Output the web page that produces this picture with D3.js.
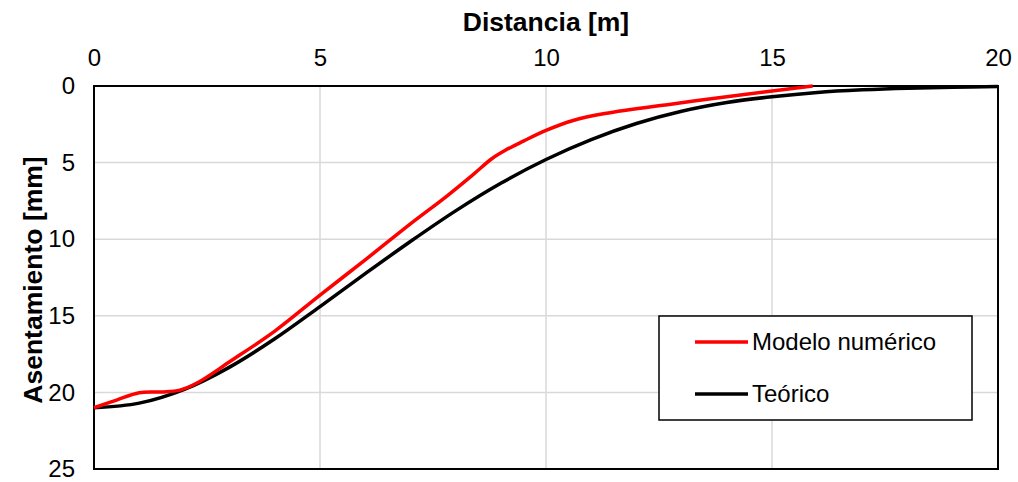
<!DOCTYPE html>
<html><head><meta charset="utf-8">
<script src="https://cdn.jsdelivr.net/npm/d3@7"></script>
<style>body{margin:0;background:#fff}svg{display:block}text{font-family:"Liberation Sans",Arial,sans-serif}</style>
</head><body><svg id="c" width="1018" height="482"></svg>
<script>
const xTicks = [0, 5, 10, 15, 20];
const yTicks = [0, 5, 10, 15, 20, 25];
const teoricoX = [0, 1, 2, 3, 4, 5, 6, 7, 8, 9, 10, 11, 12, 13, 14, 15, 16, 17, 18, 19, 20];
const teoricoY = [21.0, 20.7, 19.8, 18.35, 16.5, 14.4, 12.25, 10.15, 8.15, 6.35, 4.8, 3.5, 2.45, 1.65, 1.08, 0.7, 0.42, 0.25, 0.14, 0.08, 0.04];
const modeloX = [0, 0.5, 1, 1.5, 1.9, 2.3, 3, 4, 5, 6, 7, 7.8, 8.4, 8.8, 9.1, 9.5, 10, 10.6, 11.3, 12.8, 14.3, 15.9];
const modeloY = [21.0, 20.5, 20.02, 19.97, 19.85, 19.35, 18.0, 16.0, 13.65, 11.35, 9.0, 7.2, 5.75, 4.75, 4.2, 3.6, 2.9, 2.25, 1.8, 1.17, 0.59, 0.0];
const seriesNames = ["Modelo numérico", "Teórico"];
const seriesColors = ["#ff0000", "#000000"];

const svg = d3.select("#c");
const L = 94, R = 998, T = 86, B = 469;
const x = d3.scaleLinear().domain([0, 20]).range([L, R]);
const y = d3.scaleLinear().domain([0, 25]).range([T, B]);

// grid
svg.append("g").selectAll("line").data(xTicks.filter(d => d > 0 && d < 20)).join("line")
  .attr("x1", d => x(d)).attr("x2", d => x(d)).attr("y1", T).attr("y2", B)
  .attr("stroke", "#d9d9d9").attr("stroke-width", 1.5);
svg.append("g").selectAll("line").data(yTicks.filter(d => d > 0 && d < 25)).join("line")
  .attr("y1", d => y(d)).attr("y2", d => y(d)).attr("x1", L).attr("x2", R)
  .attr("stroke", "#d9d9d9").attr("stroke-width", 1.5);

// axes (labels only, lines drawn as frame)
const xAxis = d3.axisTop(x).tickValues(xTicks).tickSize(0).tickPadding(20);
const gx = svg.append("g").attr("transform", `translate(0,${T})`).call(xAxis);
gx.select(".domain").remove();
gx.selectAll("text").attr("font-size", 24).attr("fill", "#000").attr("font-family", "Liberation Sans, Arial, sans-serif");

const yAxis = d3.axisLeft(y).tickValues(yTicks).tickSize(0).tickPadding(19);
const gy = svg.append("g").attr("transform", `translate(${L},0)`).call(yAxis);
gy.select(".domain").remove();
gy.selectAll("text").attr("font-size", 24).attr("fill", "#000").attr("font-family", "Liberation Sans, Arial, sans-serif");

// frame
svg.append("rect").attr("x", L).attr("y", T).attr("width", R - L).attr("height", B - T)
  .attr("fill", "none").attr("stroke", "#000").attr("stroke-width", 2);

// series
const line = d3.line().x(d => x(d[0])).y(d => y(d[1])).curve(d3.curveCatmullRom.alpha(0.5));
const teorico = teoricoX.map((v, i) => [v, teoricoY[i]]);
const modelo = modeloX.map((v, i) => [v, modeloY[i]]);
svg.append("path").datum(teorico).attr("d", line).attr("fill", "none")
  .attr("stroke", seriesColors[1]).attr("stroke-width", 3.5).attr("stroke-linejoin", "round");
svg.append("path").datum(modelo).attr("d", line).attr("fill", "none")
  .attr("stroke", seriesColors[0]).attr("stroke-width", 3.5).attr("stroke-linejoin", "round");

// titles
svg.append("text").attr("x", 546).attr("y", 31).attr("text-anchor", "middle")
  .attr("font-size", 26.5).attr("font-weight", "bold").text("Distancia [m]");
svg.append("text").attr("transform", "translate(42,280) rotate(-90)").attr("text-anchor", "middle")
  .attr("font-size", 26.5).attr("font-weight", "bold").text("Asentamiento [mm]");

// legend
const lg = svg.append("g");
lg.append("rect").attr("x", 659).attr("y", 316).attr("width", 313).attr("height", 104)
  .attr("fill", "#fff").attr("stroke", "#000").attr("stroke-width", 1.5);
const ly = [342, 394];
seriesNames.forEach((n, i) => {
  lg.append("line").attr("x1", 695).attr("x2", 748).attr("y1", ly[i]).attr("y2", ly[i])
    .attr("stroke", seriesColors[i]).attr("stroke-width", 3.5);
  lg.append("text").attr("x", 752).attr("y", ly[i] + 8).attr("font-size", 24).text(n);
});
</script></body></html>
